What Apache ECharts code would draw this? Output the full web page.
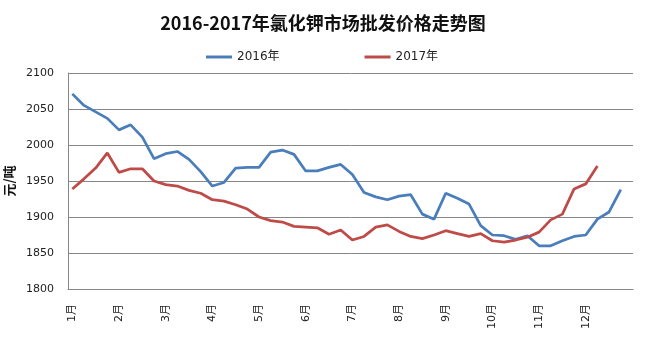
<!DOCTYPE html>
<html>
<head>
<meta charset="utf-8">
<script src="https://cdn.jsdelivr.net/npm/echarts@6/dist/echarts.min.js"></script>
<style>html,body{margin:0;padding:0;background:#fff;}#c{width:646px;height:345px;}</style>
</head>
<body>
<div id="c"></div>
<script>
const months = ['1月','2月','3月','4月','5月','6月','7月','8月','9月','10月','11月','12月'];
const weeksPerMonth = 4;
const yTicks = [1800, 1850, 1900, 1950, 2000, 2050, 2100];
const series2016 = [2071,2055,2046,2037,2021,2028,2011,1981,1988,1991,1980,1963,1943,1948,1968,1969,1969,1990,1993,1987,1964,1964,1969,1973,1959,1934,1928,1924,1929,1931,1904,1897,1933,1926,1918,1888,1875,1874,1869,1874,1860,1860,1867,1873,1875,1897,1907,1938];
const series2017 = [1939,1953,1968,1989,1962,1967,1967,1950,1945,1943,1937,1933,1924,1922,1917,1911,1900,1895,1893,1887,1886,1885,1876,1882,1868,1873,1886,1889,1880,1873,1870,1875,1881,1877,1873,1877,1867,1865,1868,1872,1879,1896,1904,1939,1946,1971];

// week index positions; month labels sit on the first week of each month
const monthStarts = months.map((m, i) => i * weeksPerMonth);
const toPairs = arr => arr.map((v, i) => [i, v]);

const chart = echarts.init(document.getElementById('c'), null, {renderer: 'canvas'});
chart.setOption({
  backgroundColor: '#ffffff',
  animation: false,
  title: {
    text: '2016-2017年氯化钾市场批发价格走势图',
    left: 'center', top: 9,
    textStyle: {fontFamily: '"Noto Sans CJK SC", sans-serif', fontSize: 18, fontWeight: 'bold', color: '#111'}
  },
  legend: {
    top: 46, left: 201,
    icon: 'rect',
    itemWidth: 26, itemHeight: 3, itemGap: 85,
    textStyle: {fontFamily: '"DejaVu Sans", "Noto Sans CJK SC", sans-serif', fontSize: 12, color: '#222'},
    data: ['2016年', '2017年']
  },
  grid: {left: 68, right: 13, top: 73, bottom: 56, containLabel: false, outerBoundsMode: 'none'},
  xAxis: {
    type: 'value',
    min: -0.37, max: 48.05,
    axisLine: {show: true, onZero: false, lineStyle: {color: '#868686', width: 1}},
    axisTick: {show: false},
    axisLabel: {
      customValues: monthStarts,
      rotate: 90,
      margin: 15,
      color: '#222',
      fontSize: 11,
      fontFamily: '"DejaVu Sans", "Noto Sans CJK SC", sans-serif',
      formatter: v => months[Math.round(v / weeksPerMonth)] || ''
    },
    splitLine: {show: false}
  },
  yAxis: {
    type: 'value',
    min: yTicks[0], max: yTicks[yTicks.length - 1], interval: 50,
    name: '元/吨',
    nameLocation: 'middle', nameRotate: 90, nameGap: 47,
    nameTextStyle: {fontFamily: '"Noto Sans CJK SC", sans-serif', fontSize: 13, fontWeight: 'bold', color: '#111'},
    axisLine: {show: true, onZero: false, lineStyle: {color: '#868686', width: 1}},
    axisTick: {show: false},
    axisLabel: {margin: 14, color: '#222', fontSize: 11, fontFamily: '"DejaVu Sans", sans-serif', formatter: v => String(v)},
    splitLine: {lineStyle: {color: '#868686', width: 1}}
  },
  series: [
    {name: '2016年', type: 'line', data: toPairs(series2016), symbol: 'none', lineStyle: {color: '#4A7EBB', width: 2.75}, itemStyle: {color: '#4A7EBB'}},
    {name: '2017年', type: 'line', data: toPairs(series2017), symbol: 'none', lineStyle: {color: '#BE4B48', width: 2.75}, itemStyle: {color: '#BE4B48'}}
  ]
});
</script>
</body>
</html>
